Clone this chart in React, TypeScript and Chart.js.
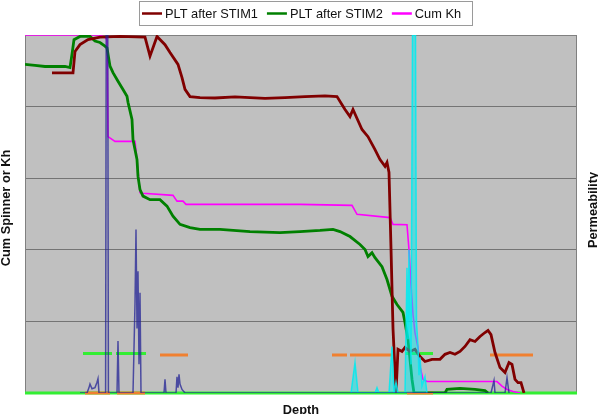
import React, { useEffect, useRef } from "react";
import { Chart, registerables } from "chart.js";

Chart.register(...registerables);

// Depth axis (arbitrary units), left axis Cum Spinner / Kh (%), right axis Permeability (relative %)
const depthMin = 0;
const depthMax = 552;

const stim1Depth = [27, 48, 50, 55, 63, 75, 95, 120, 125, 132, 140, 145, 153, 157, 160, 165, 175, 190, 210, 240, 260, 280, 300, 312, 320, 325, 328, 337, 343, 350, 355, 360, 362, 364, 366, 368, 371, 373, 377, 380, 385, 390, 395, 400, 407, 415, 420, 425, 430, 435, 440, 445, 450, 455, 460, 463, 466, 470, 475, 480, 484, 487, 490, 493, 496, 499];
const stim1Value = [89.4, 89.4, 95.4, 97.3, 98.7, 99.4, 99.6, 99.4, 94.1, 99.6, 97.3, 95.1, 91.8, 88.1, 84.8, 82.8, 82.5, 82.4, 82.7, 82.3, 82.5, 82.8, 83.0, 82.8, 79.2, 77.2, 79.2, 73.6, 71.6, 68.0, 65.2, 63.3, 64.4, 61.6, 40.4, 18.0, 0, 12.2, 11.6, 12.7, 11.6, 12.2, 10.2, 8.8, 9.4, 9.4, 10.8, 11.3, 10.8, 11.6, 13.0, 14.9, 14.4, 15.8, 16.9, 17.5, 16.3, 11.3, 7.1, 5.7, 8.5, 8.0, 3.8, 2.9, 2.9, 0];

const stim2Depth = [0, 10, 20, 30, 40, 45, 47, 49, 55, 65, 70, 75, 80, 82, 85, 88, 93, 98, 102, 103, 107, 108, 112, 113, 115, 118, 125, 135, 142, 148, 155, 165, 175, 195, 225, 255, 275, 295, 308, 315, 325, 335, 340, 343, 347, 350, 357, 362, 367, 372, 378, 380, 383, 385, 387, 389, 420, 422, 435, 450, 460, 463];
const stim2Value = [91.8, 91.5, 91.2, 91.2, 91.2, 90.9, 94.6, 98.7, 99.6, 99.6, 98.3, 97.9, 96.9, 96.4, 91.3, 89.5, 87.1, 84.8, 82.9, 81.2, 76.4, 70.8, 65.2, 60.5, 56.8, 55.0, 54.0, 54.0, 52.2, 49.4, 47.1, 46.2, 45.7, 45.7, 45.1, 44.8, 45.1, 45.4, 45.7, 45.1, 43.7, 41.5, 40.1, 38.1, 39.2, 37.8, 35.3, 31.7, 27.0, 24.7, 22.5, 19.7, 14.9, 9.4, 3.8, 0, 0, 1.0, 1.3, 1.0, 0.7, 0];

const cumKhDepth = [0, 75, 80, 82, 83, 90, 110, 112, 115, 118, 148, 152, 158, 161, 275, 327, 332, 365, 368, 382, 384, 386, 388, 390, 393, 395, 398, 402, 472, 477, 482, 488, 495];
const cumKhValue = [100, 100, 99.3, 98.7, 71.6, 70.3, 70.3, 65.2, 56.0, 55.8, 55.2, 53.6, 53.6, 52.7, 52.7, 52.4, 49.9, 49.0, 47.1, 47.0, 40.0, 30.0, 22.0, 16.8, 12.7, 7.4, 3.8, 3.2, 3.2, 1.9, 1.0, 0.4, 0];

const permBlueDepth = [55, 62, 64, 65, 67, 70, 72, 73, 74, 80.6, 81.2, 82.8, 83.4, 92, 93, 94, 108, 110, 111, 112, 113, 114, 115, 116, 139, 140, 141, 151, 152, 153, 154, 155, 157, 160, 466, 469, 470, 480, 482, 484];
const permBlueValue = [0, 0, 1.5, 2.5, 1.2, 1.5, 3.0, 4.0, 0, 0, 100, 100, 0, 0, 14.5, 0, 0, 25, 45.7, 18, 34, 8, 28, 0, 0, 3.8, 0, 0, 4.5, 1.5, 5.2, 2.5, 1.0, 0, 0, 3.5, 0, 0, 4.3, 0];

const permCyanDepth = [326, 330, 333, 350, 352, 354, 364, 367, 369, 371, 373, 380, 382, 383, 384, 385, 386, 387.5, 390.5, 391.5, 393, 394, 395, 397, 400, 402];
const permCyanValue = [0, 8.5, 0, 0, 1.5, 0, 0, 13, 0, 3, 0, 0, 35, 15, 40, 20, 8, 100, 100, 20, 13, 5, 10, 2, 4.6, 0];

const greenZones = [[58, 87], [91, 121], [380, 408]];
const greenZoneLevel = 11.0;
const orangeZones = [[135, 163], [307, 322], [325, 367], [465, 508]];
const orangeZoneLevel = 10.6;
const orangeBaseZones = [[60, 85], [92, 120], [382, 408]];

const legendLabels = ["PLT after STIM1", "PLT after STIM2", "Cum Kh"];
const legendColors = ["#800000", "#008000", "#ff00ff"];
const leftTitle = "Cum Spinner or Kh";
const rightTitle = "Permeability";
const bottomTitle = "Depth";

function pts(d: number[], v: number[]) {
  return d.map((x, i) => ({ x, y: v[i] }));
}
function segs(z: number[][], level: number) {
  const out: any[] = [];
  z.forEach(([a, b]) => {
    out.push({ x: a, y: level }, { x: b, y: level }, { x: b, y: null });
  });
  return out;
}

const FONT = '"Liberation Sans", Arial, sans-serif';

const decorPlugin = {
  id: "decor",
  beforeDraw(chart: any) {
    const { ctx, chartArea: a } = chart;
    ctx.save();
    ctx.fillStyle = "#ffffff";
    ctx.fillRect(0, 0, chart.width, chart.height);
    ctx.fillStyle = "#c0c0c0";
    ctx.fillRect(a.left, a.top, a.right - a.left, a.bottom - a.top);
    ctx.restore();
  },
  beforeDatasetsDraw(chart: any) {
    const { ctx, chartArea: a } = chart;
    ctx.save();
    ctx.strokeStyle = "#808080";
    ctx.lineWidth = 1;
    ctx.strokeRect(a.left + 0.5, a.top + 0.5, a.right - a.left - 1, a.bottom - a.top - 1);
    ctx.restore();
  },
  afterDraw(chart: any) {
    const { ctx, chartArea: a } = chart;
    ctx.save();
    // legend
    ctx.fillStyle = "#ffffff";
    ctx.fillRect(139, 2, 333, 23);
    ctx.strokeStyle = "#9a9a9a";
    ctx.lineWidth = 1;
    ctx.strokeRect(139.5, 1.5, 333, 24);
    ctx.font = "12.8px " + FONT;
    ctx.textBaseline = "alphabetic";
    ctx.textAlign = "left";
    let x = 142;
    legendLabels.forEach((lab, i) => {
      ctx.strokeStyle = legendColors[i];
      ctx.lineWidth = 2.5;
      ctx.beginPath();
      ctx.moveTo(x, 13.5);
      ctx.lineTo(x + 20, 13.5);
      ctx.stroke();
      ctx.fillStyle = "#111";
      ctx.fillText(lab, x + 23, 18.3);
      x += 23 + ctx.measureText(lab).width + 9;
    });
    // axis titles
    ctx.font = "bold 12.8px " + FONT;
    ctx.fillStyle = "#111";
    ctx.textAlign = "center";
    ctx.save();
    ctx.translate(10, (a.top + a.bottom) / 2 - 6);
    ctx.rotate(-Math.PI / 2);
    ctx.fillText(leftTitle, 0, 0);
    ctx.restore();
    ctx.save();
    ctx.translate(597, (a.top + a.bottom) / 2 - 4);
    ctx.rotate(-Math.PI / 2);
    ctx.fillText(rightTitle, 0, 0);
    ctx.restore();
    ctx.fillText(bottomTitle, 301, 413.5);
    ctx.restore();
  },
};

export default function App() {
  const ref = useRef<HTMLCanvasElement | null>(null);
  useEffect(() => {
    if (!ref.current) return;
    const chart = new Chart(ref.current, {
      type: "line",
      data: {
        datasets: [
          { label: "Perm", data: pts(permBlueDepth, permBlueValue), yAxisID: "y1", borderColor: "rgba(35,35,150,0.75)", borderWidth: 1.5 },
          { label: "Perm2", data: pts(permCyanDepth, permCyanValue), yAxisID: "y1", borderColor: "rgba(0,235,240,0.85)", backgroundColor: "rgba(0,235,240,0.5)", fill: "origin", borderWidth: 1.5 },
          { label: legendLabels[0], data: pts(stim1Depth, stim1Value), yAxisID: "y", borderColor: legendColors[0], borderWidth: 2.8 },
          { label: legendLabels[1], data: pts(stim2Depth, stim2Value), yAxisID: "y", borderColor: legendColors[1], borderWidth: 2.8 },
          { label: legendLabels[2], data: pts(cumKhDepth, cumKhValue), yAxisID: "y", borderColor: legendColors[2], borderWidth: 1.6 },
          { label: "OrangeBase", data: segs(orangeBaseZones, 0), yAxisID: "y1", borderColor: "#f08030", borderWidth: 3, clip: false },
          { label: "GreenZones", data: segs(greenZones, greenZoneLevel), yAxisID: "y1", borderColor: "#33ee33", borderWidth: 3 },
          { label: "OrangeZones", data: segs(orangeZones, orangeZoneLevel), yAxisID: "y1", borderColor: "#f08030", borderWidth: 3 },
          { label: "Base", data: [{ x: depthMin, y: 0 }, { x: depthMax, y: 0 }], yAxisID: "y1", borderColor: "#33ee33", borderWidth: 3, clip: false },
        ],
      },
      options: {
        animation: false,
        responsive: false,
        maintainAspectRatio: false,
        devicePixelRatio: 1,
        layout: { padding: { left: 25, right: 21, top: 35, bottom: 21 } },
        plugins: { legend: { display: false }, tooltip: { enabled: false } },
        elements: { point: { radius: 0 }, line: { tension: 0 } },
        scales: {
          x: { type: "linear", min: depthMin, max: depthMax, display: false },
          y: {
            min: 0,
            max: 100,
            ticks: { display: false, stepSize: 20 },
            grid: { color: "#747474", drawTicks: false, lineWidth: 1 },
            border: { display: false },
            afterFit: (s: any) => { s.width = 0; },
          },
          y1: { position: "right", min: 0, max: 100, display: false },
        },
      } as any,
      plugins: [decorPlugin],
    });
    return () => chart.destroy();
  }, []);
  return (
    <div style={{ position: "fixed", left: 0, top: 0, width: 598, height: 414, background: "#fff" }}>
      <canvas ref={ref} width={598} height={414} style={{ display: "block" }} />
    </div>
  );
}
